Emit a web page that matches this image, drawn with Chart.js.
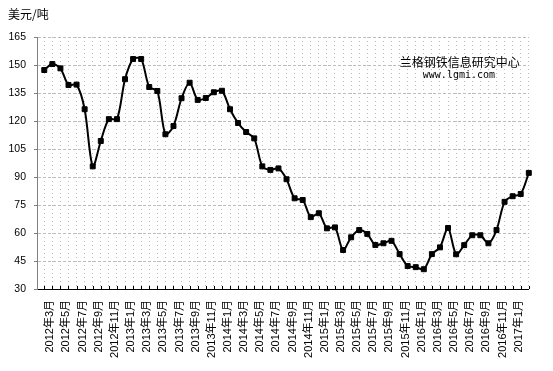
<!DOCTYPE html>
<html>
<head>
<meta charset="utf-8">
<script src="https://cdn.jsdelivr.net/npm/chart.js@4.4.1/dist/chart.umd.min.js"></script>
<style>
html,body{margin:0;padding:0;background:#ffffff;}
#wrap{width:553px;height:371px;position:relative;}
canvas{display:block;}
</style>
</head>
<body>
<div id="wrap"><canvas id="c" width="553" height="371"></canvas></div>
<script>
// ---- data ----
const categories = [
  '2012年3月','2012年4月','2012年5月','2012年6月','2012年7月','2012年8月','2012年9月','2012年10月','2012年11月','2012年12月',
  '2013年1月','2013年2月','2013年3月','2013年4月','2013年5月','2013年6月','2013年7月','2013年8月','2013年9月','2013年10月','2013年11月','2013年12月',
  '2014年1月','2014年2月','2014年3月','2014年4月','2014年5月','2014年6月','2014年7月','2014年8月','2014年9月','2014年10月','2014年11月','2014年12月',
  '2015年1月','2015年2月','2015年3月','2015年4月','2015年5月','2015年6月','2015年7月','2015年8月','2015年9月','2015年10月','2015年11月','2015年12月',
  '2016年1月','2016年2月','2016年3月','2016年4月','2016年5月','2016年6月','2016年7月','2016年8月','2016年9月','2016年10月','2016年11月','2016年12月',
  '2017年1月','2017年2月','2017年3月'
];
const prices = [
  147.3, 150.5, 148.2, 139.3, 139.5, 126.3, 95.7, 109.3, 121.0, 121.0,
  142.4, 153.2, 153.2, 138.2, 136.1, 112.9, 117.3, 132.2, 140.5, 131.3, 132.3, 135.4,
  136.2, 126.3, 118.9, 114.1, 110.7, 95.7, 93.8, 94.6, 88.8, 78.6, 77.7, 68.5,
  70.6, 62.5, 63.0, 50.9, 57.7, 61.6, 59.5, 53.6, 54.5, 55.8, 48.7, 42.3,
  41.7, 40.6, 48.7, 52.3, 62.7, 48.6, 53.5, 58.8, 58.8, 54.5, 61.6, 76.7,
  79.7, 80.9, 92.2
];
// x labels shown on the axis (every second month)
const xTickLabels = [
  '2012年3月','2012年5月','2012年7月','2012年9月','2012年11月',
  '2013年1月','2013年3月','2013年5月','2013年7月','2013年9月','2013年11月',
  '2014年1月','2014年3月','2014年5月','2014年7月','2014年9月','2014年11月',
  '2015年1月','2015年3月','2015年5月','2015年7月','2015年9月','2015年11月',
  '2016年1月','2016年3月','2016年5月','2016年7月','2016年9月','2016年11月',
  '2017年1月'
];
const yTicks = [30, 45, 60, 75, 90, 105, 120, 135, 150, 165];
const unitLabel = '美元/吨';
const watermarkLines = ['兰格钢铁信息研究中心', 'www.lgmi.com'];

// ---- plugins ----
const extras = {
  id: 'extras',
  afterDraw(chart) {
    const ctx = chart.ctx;
    const xs = chart.scales.x;
    const area = chart.chartArea;
    ctx.save();
    // inward tick marks on the category axis
    ctx.strokeStyle = '#000000';
    ctx.lineWidth = 1;
    ctx.beginPath();
    xs.ticks.forEach(t => {
      const px = Math.round(xs.getPixelForValue(t.value)) + 0.5;
      ctx.moveTo(px, area.bottom);
      ctx.lineTo(px, area.bottom - 3);
    });
    ctx.stroke();
    // unit label
    ctx.fillStyle = '#000000';
    ctx.textBaseline = 'middle';
    ctx.textAlign = 'left';
    ctx.font = '12px "Noto Sans CJK SC", sans-serif';
    ctx.fillText(unitLabel, 8, 14);
    // watermark
    ctx.textAlign = 'left';
    ctx.font = '12px "Noto Sans CJK SC", sans-serif';
    ctx.fillText(watermarkLines[0], area.right - 129, area.top + 25);
    ctx.font = '10px "DejaVu Sans Mono", monospace';
    ctx.fillText(watermarkLines[1], area.right - 106, area.top + 38);
    ctx.restore();
  }
};

new Chart(document.getElementById('c'), {
  type: 'line',
  data: {
    datasets: [{
      data: prices.map((v, i) => ({x: i, y: v})),
      borderColor: '#000000',
      borderWidth: 2,
      tension: 0.3,
      pointStyle: 'rect',
      pointRadius: 3.5,
      pointBackgroundColor: '#000000',
      pointBorderColor: '#000000',
      pointBorderWidth: 1,
      clip: false
    }]
  },
  options: {
    responsive: false,
    devicePixelRatio: 1,
    animation: false,
    layout: {padding: {left: 8, right: 14, top: 37, bottom: 0}},
    plugins: {legend: {display: false}, tooltip: {enabled: false}, title: {display: false}},
    scales: {
      x: {
        type: 'linear',
        min: -0.9,
        max: categories.length - 1,
        afterBuildTicks: s => { s.ticks = categories.map((_, i) => ({value: i})); },
        afterFit: s => { s.height = 82; },
        ticks: {
          autoSkip: false,
          maxRotation: 90,
          minRotation: 90,
          padding: 11,
          labelOffset: 6,
          color: '#000000',
          font: {family: '"Liberation Sans", "Noto Sans CJK SC", sans-serif', size: 11},
          callback: (v) => (v % 2 === 0 && v / 2 < xTickLabels.length) ? xTickLabels[v / 2] : ''
        },
        grid: {color: '#bdbdbd', lineWidth: 1, drawTicks: false},
        border: {display: true, color: '#000000', width: 1, dash: [1, 3]}
      },
      y: {
        min: yTicks[0],
        max: yTicks[yTicks.length - 1],
        afterBuildTicks: s => { s.ticks = yTicks.map(v => ({value: v})); },
        afterFit: s => { s.width = 29; },
        ticks: {
          padding: 8,
          color: '#000000',
          font: {family: '"Liberation Sans", sans-serif', size: 10.5}
        },
        grid: {color: '#bdbdbd', lineWidth: 1, drawTicks: true, tickLength: 3, tickColor: '#808080'},
        border: {display: true, color: '#808080', width: 1, dash: [3, 2]}
      }
    }
  },
  plugins: [extras]
});
</script>
</body>
</html>
